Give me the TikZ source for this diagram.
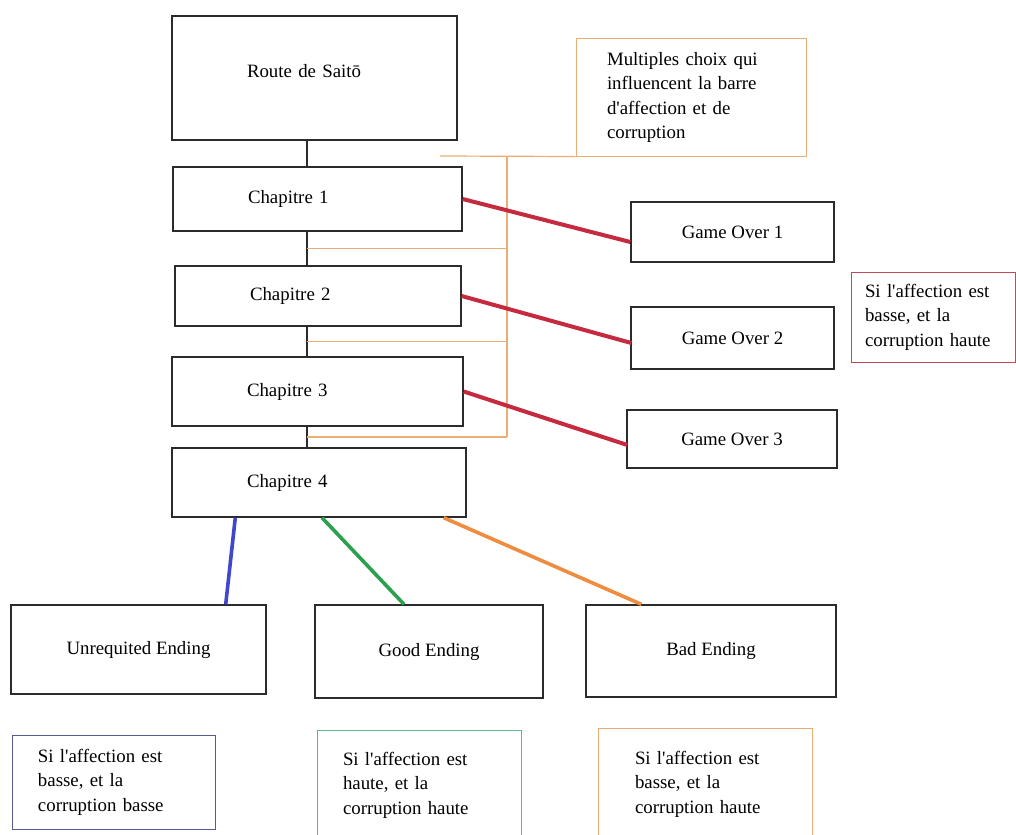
\documentclass[tikz,border=0pt]{standalone}
\usepackage{fontspec}
\setmainfont{Liberation Serif}[Ligatures=TeXOff]
\usepackage{xcolor}
\usepackage{tikz}
\usetikzlibrary{positioning, calc}
\definecolor{ink}{HTML}{2B2B2B}
\definecolor{rougeMort}{HTML}{C62A3F}
\definecolor{bleuFin}{HTML}{3F48CC}
\definecolor{vertFin}{HTML}{2BA04F}
\definecolor{orangeFin}{HTML}{EE8C3F}
\definecolor{orangeChoix}{HTML}{EAAE74}
\definecolor{bordRouge}{HTML}{C4475A}
\definecolor{bordBleu}{HTML}{555A92}
\definecolor{bordVert}{HTML}{5DB88A}

\begin{document}
\begin{tikzpicture}[x=0.25mm, y=-0.25mm, font=\fontsize{13.4pt}{17.5pt}\selectfont]
    \tikzset{
      b/.style={rectangle, draw=ink, line width=0.35mm, fill=white,
                align=center, inner sep=0pt},
      chap/.style={b, align=left, inner xsep=18.75mm, inner ysep=0pt},
      note/.style={rectangle, line width=0.25mm, fill=white, align=left,
                   inner ysep=0pt},
      lien/.style={draw=ink, line width=0.35mm},
      choix/.style={draw=orangeChoix, line width=0.3mm},
      mort/.style={draw=rougeMort, line width=1mm},
      fin/.style={line width=0.9mm}
    }
    \clip (0,0) rectangle (1016,834);
    \fill[white] (0,0) rectangle (1016,834);
    \node[chap, text width=33.75mm, minimum height=31mm, text depth=3.3mm] (route) at (314.5,78) {Route de Saitō};
    \node[chap, text width=34.75mm, minimum height=16mm] (ch1) at (317.5,199) {Chapitre 1};
    \node[chap, text width=34mm, minimum height=15mm] (ch2) at (318,296) {Chapitre 2};
    \node[chap, text width=35.25mm, minimum height=17.25mm] (ch3) at (317.5,391.5) {Chapitre 3};
    \node[chap, text width=36mm, minimum height=17.25mm] (ch4) at (319,482.5) {Chapitre 4};
    \node[b, minimum width=50.75mm, minimum height=15mm] (go1) at (732.5,232) {Game Over 1};
    \node[b, minimum width=50.75mm, minimum height=15.5mm] (go2) at (732.5,338) {Game Over 2};
    \node[b, minimum width=52.5mm, minimum height=14.5mm] (go3) at (732,439) {Game Over 3};
    \node[b, minimum width=63.75mm, minimum height=22.25mm] (unr) at (138.5,649.5) {Unrequited Ending};
    \node[b, minimum width=57mm, minimum height=23.25mm] (good) at (429,651.5) {Good Ending};
    \node[b, minimum width=62.5mm, minimum height=23mm] (bad) at (711,651) {Bad Ending};
    \node[note, draw=orangeChoix, inner xsep=7.75mm, text width=42mm, minimum height=29.25mm] (nTop) at (691,97.5)
      {Multiples choix qui\\influencent la barre\\d'affection et de\\corruption};
    \node[note, draw=bordRouge, inner xsep=3.5mm, text width=34mm, minimum height=22.5mm] (nRouge) at (933,317)
      {Si l'affection est\\basse, et la\\corruption haute};
    \node[note, draw=bordBleu, inner xsep=6.25mm, text width=38mm, minimum height=23.5mm] (nBleu) at (114,782)
      {Si l'affection est\\basse, et la\\corruption basse};
    \node[note, draw=bordVert, inner xsep=6.5mm, text width=38mm, minimum height=27.5mm] (nVert) at (419,785)
      {Si l'affection est\\haute, et la\\corruption haute};
    \node[note, draw=orangeChoix, inner xsep=9.25mm, text width=35mm, minimum height=28mm] (nOrange) at (705,784)
      {Si l'affection est\\basse, et la\\corruption haute};
    \coordinate (spine) at (307,0);
    \coordinate (bar) at (507,0);
    \coordinate (bout) at (440,156);
    \coordinate (m1) at ($(ch1.south)!0.5!(ch2.north)$);
    \coordinate (m2) at ($(ch2.south)!0.5!(ch3.north)$);
    \coordinate (m3) at ($(ch3.south)!0.5!(ch4.north)$);
    \draw[lien] (spine |- route.south) -- (spine |- ch1.north);
    \draw[lien] (spine |- ch1.south) -- (spine |- ch2.north);
    \draw[lien] (spine |- ch2.south) -- (spine |- ch3.north);
    \draw[lien] (spine |- ch3.south) -- (spine |- ch4.north);
    \draw[choix] (bout) -- (nTop.south west);
    \draw[choix] (bar |- nTop.south) -- (bar |- m3);
    \foreach \m in {m1,m2,m3}
      \draw[choix] (spine |- \m) -- (bar |- \m);
    \draw[mort] (ch1.east) -- ($(go1.west)+(0,10)$);
    \draw[mort] (ch2.east) -- ($(go2.west)+(1,5)$);
    \draw[mort] (ch3.east) -- ($(go3.west)+(1,6)$);
    \draw[fin, bleuFin] ($(ch4.south west)+(64,0)$) -- ($(unr.north east)+(-41,0)$);
    \draw[fin, vertFin] ($(ch4.south)+(3,0)$) -- ($(good.north)+(-25,0)$);
    \draw[fin, orangeFin] ($(ch4.south east)+(-23,0)$) -- ($(bad.north west)+(56,0)$);
  \end{tikzpicture}
\end{document}
